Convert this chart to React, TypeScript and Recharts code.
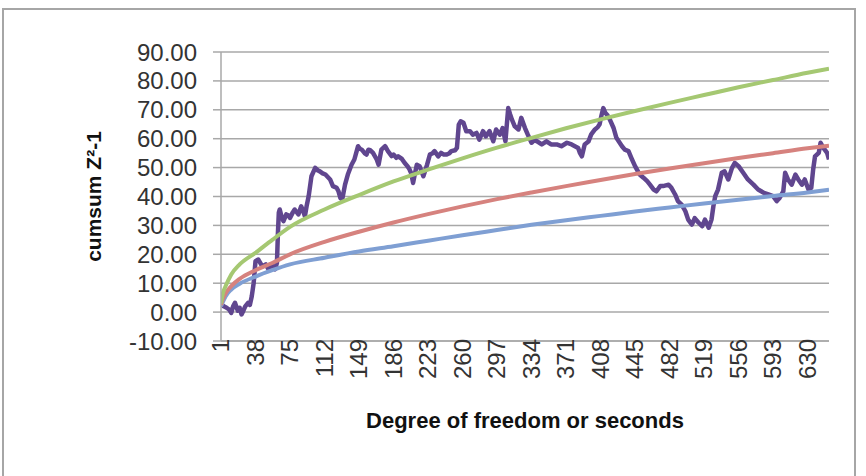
import React from "react";
import { LineChart, Line, XAxis, YAxis, CartesianGrid, Label } from "recharts";

// Purple cumsum series (index, value)
const purpleX = [1,4,7,10,12,14,16,19,21,23,25,27,30,32,34,36,38,41,44,46,49,52,55,59,61,62,63,64,66,68,71,73,75,78,80,84,87,89,91,93,95,98,102,105,107,110,113,118,121,125,127,129,131,134,137,141,144,148,150,152,155,157,159,161,164,168,170,173,177,180,184,186,189,191,195,198,201,203,205,207,209,211,214,218,220,222,225,228,230,234,237,240,243,246,248,252,254,256,258,261,264,268,271,275,278,282,285,289,293,296,300,303,306,309,311,313,316,320,323,327,330,334,337,340,345,350,355,361,366,372,377,380,384,386,388,391,395,398,402,405,407,409,411,413,415,418,422,425,431,434,438,441,445,450,454,458,461,465,468,472,475,481,484,488,491,495,499,502,506,509,513,517,520,524,527,529,531,534,538,541,545,549,552,556,561,566,572,577,583,588,593,597,600,604,606,609,613,617,620,624,627,631,634,636,638,642,644,647,651,653];
const purpleY = [2.7,2.0,1.5,0.8,-0.3,2.0,3.2,0.5,1.5,-0.8,0.5,2.0,3.2,2.5,5.5,10,17.6,18.2,16.5,15.9,16.5,14.8,16.5,14.8,17,27,34.4,35.5,33,31.5,33.8,33.5,32.6,34.5,35.5,33.8,36.6,35,33.2,37,40.1,47,49.9,49,48.7,48,47.6,45.9,43.6,43,41.8,39.5,39,44.1,47.6,51,52.8,57.4,56.5,56.2,55,54.5,56.2,56,55.1,52.8,51,56.2,57.4,55.7,54,54.5,53.4,53.9,53,51.6,50.5,49.5,48,44.7,48,51,50.5,47,49,51,54.5,55,55.7,53.9,55.1,54.5,54.5,55,55.7,56,56.8,64.9,66,65.5,62.6,62.6,61.4,62,59.7,62.6,60.8,62.6,59.1,63.2,61.4,63.7,59.1,70.6,68.5,66.6,64.3,63.2,67.2,63.7,61.4,58.6,59.5,59.1,58,59.1,58,58,57.4,58.6,58,57.5,56.8,55,53.9,58,59,61.5,63.2,64,65,68,70.6,69,68.3,66.6,63.7,60.3,57.4,56.2,55.7,53.4,50.5,47.6,46.5,45.3,44.1,42.4,41.8,43.6,43.6,44.1,43,40.7,38.4,37.2,34.9,32,30.3,32.5,31,29.7,32,29.2,32,36.6,40.1,42.4,48.2,48.7,45.9,49.9,51.6,50.5,48.2,45.9,44.1,42.4,41.3,40.7,40.1,38.4,39.5,41.8,48.2,45.9,44.1,47.6,45.9,44.1,45.9,42.4,43,49.3,53.9,55.1,58.6,56.8,55.1,52.8];

// Smooth reference curves read at selected positions
const curveX = [1,3,6,12,21,38,56,75,112,149,186,223,260,297,334,371,408,445,482,519,556,593,630,653];
const greenY = [3,6.5,9,13,16.5,20.5,25,29.5,35.5,40.5,45.2,49.3,53.2,56.9,60.3,63.6,66.7,69.6,72.4,75.1,77.8,80.3,82.8,84.2];
const redY = [2.5,4.5,6.5,9,11.5,14.5,17,20,24.3,27.8,31,33.9,36.6,39.1,41.4,43.6,45.7,47.8,49.7,51.5,53.3,55,56.7,57.6];
const blueY = [2,3.5,5.5,7.8,9.8,12.3,14.5,16.5,18.8,21,22.8,24.7,26.6,28.4,30.2,31.8,33.3,34.8,36.2,37.6,38.9,40.2,41.4,42.3];

const xTicks = [1,38,75,112,149,186,223,260,297,334,371,408,445,482,519,556,593,630];
const yTicks = [-10,0,10,20,30,40,50,60,70,80,90];

const purpleData = purpleX.map((x, i) => ({ x, y: purpleY[i] }));
const curveData = curveX.map((x, i) => ({ x, green: greenY[i], red: redY[i], blue: blueY[i] }));

const FONT = "'Liberation Sans', Arial, sans-serif";

const XTick = (props: any) => {
  const { x, y, payload } = props;
  return (
    <text
      x={x}
      y={y}
      transform={`rotate(-90, ${x}, ${y})`}
      textAnchor="end"
      dx={2}
      dy="0.35em"
      fontSize={24}
      fill="#333"
      fontFamily={FONT}
    >
      {payload.value}
    </text>
  );
};

export default function App() {
  return (
    <div style={{ position: "absolute", left: 0, top: 0, width: 866, height: 476, background: "#fff", overflow: "hidden" }}>
      <div style={{ position: "absolute", left: 2, top: 8, width: 854, height: 480, border: "2px solid #a6a6a6", boxSizing: "border-box" }} />
      <div style={{ position: "absolute", left: 0, top: 0 }}>
        <LineChart width={866} height={476} margin={{ top: 52, right: 37, left: 0, bottom: 0 }} style={{ fontFamily: FONT }}>
          <CartesianGrid vertical={false} stroke="#a8a8a8" strokeWidth={1.5} />
          <XAxis
            dataKey="x"
            type="number"
            domain={[1, 653]}
            ticks={xTicks}
            interval={0}
            height={135}
            tickLine={false}
            tickSize={0}
            tickMargin={0}
            tick={<XTick />}
            axisLine={{ stroke: "#a8a8a8", strokeWidth: 1.5 }}
            allowDataOverflow
          >
            <Label
              value="Degree of freedom or seconds"
              position="insideBottom"
              offset={48}
              style={{ fontSize: 22, fontWeight: "bold", fill: "#111", fontFamily: FONT }}
            />
          </XAxis>
          <YAxis
            type="number"
            domain={[-10, 90]}
            ticks={yTicks}
            interval={0}
            width={221}
            tickSize={8}
            tickMargin={16}
            tickFormatter={(v: number) => v.toFixed(2)}
            tick={{ fontSize: 24, fill: "#333", fontFamily: FONT }}
            tickLine={{ stroke: "#a8a8a8", strokeWidth: 1.5 }}
            axisLine={{ stroke: "#a8a8a8", strokeWidth: 1.5 }}
          >
            <Label
              value="cumsum Z²-1"
              angle={-90}
              position="insideLeft"
              offset={94}
              style={{ fontSize: 21, fontWeight: "bold", fill: "#111", fontFamily: FONT, textAnchor: "middle" }}
            />
          </YAxis>
          <Line data={purpleData} dataKey="y" type="linear" stroke="#60468f" strokeWidth={4.5} strokeLinejoin="round" dot={false} isAnimationActive={false} />
          <Line data={curveData} dataKey="blue" type="monotone" stroke="#7f9fd3" strokeWidth={4} dot={false} isAnimationActive={false} />
          <Line data={curveData} dataKey="red" type="monotone" stroke="#d6827e" strokeWidth={4} dot={false} isAnimationActive={false} />
          <Line data={curveData} dataKey="green" type="monotone" stroke="#a5c872" strokeWidth={4} dot={false} isAnimationActive={false} />
        </LineChart>
      </div>
    </div>
  );
}
